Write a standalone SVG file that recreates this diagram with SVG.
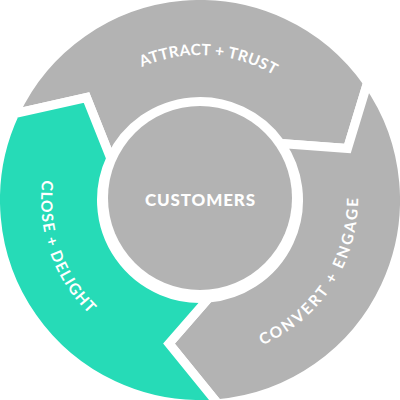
<svg xmlns="http://www.w3.org/2000/svg" width="400" height="400" viewBox="0 0 400 400">
  <style>
    .seg { stroke: #ffffff; stroke-width: 9; stroke-linejoin: miter; stroke-miterlimit: 10; }
    .gray { fill: #b3b3b3; }
    .teal { fill: #26dbb7; }
    .lbl { fill: #ffffff; font-family: Lato, "Liberation Sans", sans-serif; font-weight: 700; font-size: 15.5px; }
    .center { fill: #ffffff; font-family: Lato, "Liberation Sans", sans-serif; font-weight: 900; font-size: 17px; }
  </style>
  <defs>
    <path id="arcAttract" d="M141.95,67.13 A145,145 0 0 1 273.37,74.94"/>
    <path id="arcClose" d="M42.25,180.07 A159,159 0 0 0 89.15,313.99"/>
    <path id="arcConvert" d="M262.24,345.22 A158,158 0 0 0 357.99,198.07"/>
  </defs>
  <rect width="400" height="400" fill="#ffffff"/>
  <g id="node-attract">
    <path class="seg gray" d="M14.66,113.57 A204.5,204.5 0 0 1 367.52,82.70 L347.5,148.5 L280.69,143.50 A98.5,98.5 0 0 0 110.73,158.37 L86.5,97.5 Z"/>
    <text class="lbl"><textPath href="#arcAttract" textLength="137" lengthAdjust="spacing">ATTRACT + TRUST</textPath></text>
  </g>
  <g id="node-convert">
    <path class="seg gray" d="M367.52,82.70 A204.5,204.5 0 0 1 217.82,403.72 L169,343.5 L208.59,298.12 A98.5,98.5 0 0 0 280.69,143.50 L347.5,148.5 Z"/>
    <text class="lbl"><textPath href="#arcConvert" textLength="186" lengthAdjust="spacing">CONVERT + ENGAGE</textPath></text>
  </g>
  <g id="node-close">
    <path class="seg teal" d="M217.82,403.72 A204.5,204.5 0 0 1 14.66,113.57 L86.5,97.5 L110.73,158.37 A98.5,98.5 0 0 0 208.59,298.12 L169,343.5 Z"/>
    <text class="lbl"><textPath href="#arcClose" textLength="147" lengthAdjust="spacing">CLOSE + DELIGHT</textPath></text>
  </g>
  <g id="node-customers">
    <circle class="gray" cx="200" cy="198" r="92"/>
    <text class="center" x="145" y="205.5" textLength="110" lengthAdjust="spacing">CUSTOMERS</text>
  </g>
  <g id="connectors"/>
</svg>
